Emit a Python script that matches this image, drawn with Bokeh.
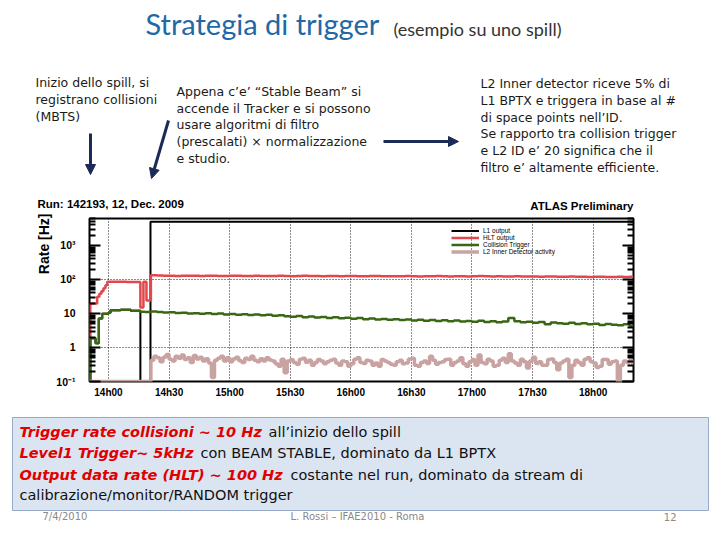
from bokeh.plotting import figure
from bokeh.models import (Range1d, Legend, LegendItem, FixedTicker, LogAxis,
                          CustomJSTickFormatter, Title, Arrow, NormalHead)
from bokeh.layouts import column
from bokeh.embed import file_html
from bokeh.resources import INLINE
from bokeh.core.properties import value

# ---------------- data ----------------
TIME_TICKS = [0, 30, 60, 90, 120, 150, 180, 210, 240]          # minutes after 14h00
TIME_LABELS = ["14h00", "14h30", "15h00", "15h30", "16h00", "16h30", "17h00", "17h30", "18h00"]
SERIES_NAMES = ["L1 output", "HLT output", "Collision Trigger", "L2 Inner Detector activity"]
RUN_START = -9.4
RUN_END = 260

# start of the spill (fine steps)
L1_T = [-9.4, -9.0, -6.4, -4.8, -3.1, 0.0, 1.0, 6.0, 11.0, 15.8, 20.8]
L1_V = [0.1, 1.86, 1.33, 7.1, 9.8, 10.5, 12.4, 12.8, 12.0, 0.1, 5000]

HLT_T = [-9.4, -9.0, -5.6, -4.5, -3.5, -2.5, -1.5, -0.6, 4.0, 9.0, 15.8, 17.3, 18.8]
HLT_V = [0.1, 19.5, 31, 38, 45, 55, 68, 85, 86, 84, 15, 85, 24]

COL_T = [-9.4, -9.0, -6.4, -4.8, -3.1, 0.0, 1.0, 6.0, 11.0, 15.8, 18.0]
COL_V = [0.1, 1.86, 1.33, 7.1, 9.8, 10.5, 12.4, 12.8, 12.0, 11.3, 11.0]

L2_T = [-9.4]
L2_V = [0.1]

# 3-minute bins from 14h21 onwards (HLT, collision trigger)
BIN_T = list(range(21, 259, 3))
# 1.5-minute bins from 14h21 onwards (L2 ID activity)
FINE_BIN_T = [21 + 1.5 * k for k in range(160)]

HLT_LATE = [132, 130, 128, 129, 127, 128, 129, 128, 127, 128,
            128, 127, 126, 128, 129, 127, 126, 128, 127, 126,
            127, 128, 126, 125, 127, 128, 126, 127, 125, 126,
            126, 125, 127, 126, 124, 125, 126, 127, 125, 124,
            125, 124, 126, 125, 123, 124, 125, 126, 124, 123,
            124, 125, 123, 124, 126, 125, 123, 124, 122, 123,
            124, 123, 122, 123, 121, 122, 123, 121, 120, 122,
            121, 120, 119, 121, 120, 118, 119, 120, 118, 121]

COL_LATE = [11.5, 11.0, 10.6, 10.9, 10.3, 10.5, 10.0, 10.2, 9.8, 10.1,
            9.6, 9.9, 9.4, 9.7, 9.2, 9.5, 9.0, 9.3, 8.8, 9.1,
            8.6, 8.9, 8.3, 8.0, 8.4, 7.8, 8.1, 7.6, 7.9, 7.4,
            7.7, 7.2, 7.5, 7.0, 7.3, 6.8, 7.1, 6.6, 6.9, 6.5,
            6.8, 6.4, 6.6, 6.2, 6.5, 6.1, 6.4, 6.0, 6.3, 5.9,
            6.2, 5.8, 6.0, 5.7, 6.1, 5.6, 5.9, 5.5, 5.8, 7.4,
            5.9, 5.5, 5.7, 5.3, 5.6, 4.8, 5.4, 5.2, 5.0, 5.3,
            4.9, 5.2, 4.8, 5.0, 4.6, 4.9, 4.7, 4.5, 4.8, 4.3]

L2_LATE = [0.42, 0.55, 0.50, 0.38, 0.52, 0.62, 0.45, 0.40, 0.55, 0.48,
           0.60, 0.44, 0.50, 0.36, 0.58, 0.46, 0.52, 0.40, 0.47, 0.35,
           0.13, 0.42, 0.48, 0.55, 0.40, 0.50, 0.38, 0.46, 0.52, 0.41,
           0.36, 0.48, 0.44, 0.55, 0.42, 0.38, 0.47, 0.40, 0.50, 0.43,
           0.40, 0.33, 0.28, 0.45, 0.18, 0.40, 0.44, 0.36, 0.32, 0.45,
           0.48, 0.37, 0.42, 0.30, 0.36, 0.44, 0.40, 0.33, 0.38, 0.42,
           0.45, 0.35, 0.30, 0.40, 0.38, 0.28, 0.33, 0.45, 0.50, 0.36,
           0.34, 0.42, 0.40, 0.30, 0.35, 0.28, 0.44, 0.40, 0.36, 0.32,
           0.30, 0.38, 0.42, 0.33, 0.35, 0.46, 0.48, 0.30, 0.28, 0.36,
           0.40, 0.34, 0.55, 0.42, 0.32, 0.36, 0.38, 0.44, 0.45, 0.30,
           0.36, 0.40, 0.50, 0.33, 0.28, 0.38, 0.44, 0.30, 0.60, 0.36,
           0.33, 0.45, 0.40, 0.28, 0.30, 0.42, 0.48, 0.36, 0.65, 0.40,
           0.35, 0.30, 0.45, 0.38, 0.25, 0.40, 0.52, 0.34, 0.38, 0.30,
           0.30, 0.44, 0.46, 0.36, 0.22, 0.35, 0.40, 0.45, 0.13, 0.30,
           0.42, 0.36, 0.30, 0.45, 0.50, 0.38, 0.35, 0.26, 0.28, 0.44,
           0.44, 0.32, 0.38, 0.40, 0.10, 0.30, 0.40, 0.36, 0.42, 0.32]

L1_LATE_LEVEL = 5000

# slide texts
TITLE = "Strategia di trigger"
SUBTITLE = "(esempio su uno spill)"
LEFT_LINES = ["Inizio dello spill, si", "registrano collisioni", "(MBTS)"]
MID_LINES = ["Appena c\u2019e\u2019 \u201cStable Beam\u201d si", "accende il Tracker e si possono",
             "usare algoritmi di filtro", "(prescalati) \u00d7 normalizzazione", "e studio."]
RIGHT_LINES = ["L2 Inner detector riceve 5% di", "L1 BPTX e triggera in base al #",
               "di space points nell\u2019ID.", "Se rapporto tra collision trigger",
               "e L2 ID e\u2019 20 significa che il", "filtro e\u2019 altamente efficiente."]
RED_PARTS = ["Trigger rate collisioni ~ 10 Hz", "Level1 Trigger~ 5kHz", "Output data rate (HLT) ~ 100 Hz"]
BLACK_PARTS = ["all\u2019inizio dello spill", "con BEAM STABLE, dominato da L1 BPTX",
               "costante nel run, dominato da stream di"]
LAST_LINE = "calibrazione/monitor/RANDOM trigger"
FOOTER = ["7/4/2010", "L. Rossi \u2013 IFAE2010 - Roma", "12"]
RUN_TEXT = "Run: 142193, 12, Dec. 2009"
ATLAS_TEXT = "ATLAS Preliminary"
Y_LABEL = "Rate [Hz]"

# ---------------- styles ----------------
RED = "#e2474b"
GREEN = "#3b6614"
PINK = "#c9a2a2"
NAVY = "#1b2a57"
BODY_FONT = "DejaVu Sans"
TITLE_FONT = "Lato"
ROOT_FONT = "Liberation Sans"
W = 720


def steps(t_early, v_early, bins, late):
    return t_early + list(bins) + [RUN_END], v_early + late + [late[-1]]


def canvas(height, y_top, y_bottom):
    f = figure(width=W, height=height, x_range=Range1d(0, W), y_range=Range1d(y_bottom, y_top),
               min_border=0, toolbar_location=None, output_backend="svg",
               x_axis_location=None, y_axis_location=None, title=None, frame_align=False)
    f.grid.visible = False
    f.outline_line_color = None
    return f


def txt(f, x, y, s, size, color="#1a1a1a", font=BODY_FONT, style="normal", align="left",
        baseline="middle"):
    f.text(x=[x], y=[y], text=[s], text_font=value(font), text_font_size=size, text_color=color,
           text_font_style=style, text_align=align, text_baseline=baseline)


# ---------------- top part of the slide ----------------
top = canvas(214, 0, 214)
txt(top, 145, 23, TITLE, "29px", color="#2168a6", font=TITLE_FONT)
txt(top, 393, 28, SUBTITLE, "18px", color="#333333", font=TITLE_FONT)
for i, s in enumerate(LEFT_LINES):
    txt(top, 35, 82 + 17 * i, s, "12.5px")
for i, s in enumerate(MID_LINES):
    txt(top, 176, 91 + 16.7 * i, s, "12.5px")
for i, s in enumerate(RIGHT_LINES):
    txt(top, 480, 83 + 16.8 * i, s, "12.5px")
for xs, ys, xe, ye in [(90, 133, 90, 174), (168, 120, 151, 178), (383, 141, 458, 141)]:
    top.add_layout(Arrow(x_start=xs, y_start=ys, x_end=xe, y_end=ye, line_color=NAVY, line_width=3,
                         end=NormalHead(size=10, fill_color=NAVY, line_color=NAVY)))
txt(top, 37, 203, RUN_TEXT, "11.5px", color="black", font=ROOT_FONT, style="bold")
txt(top, 633, 205, ATLAS_TEXT, "11.5px", color="black", font=ROOT_FONT, style="bold", align="right")

# ---------------- chart ----------------
p = figure(width=W, height=191, y_axis_type="log", x_range=Range1d(RUN_START, RUN_END),
           y_range=Range1d(0.1, 6200), min_border_left=89, min_border_right=87,
           min_border_top=4, min_border_bottom=24, toolbar_location=None,
           output_backend="svg", title=None, frame_align=False)

t, v = L1_T + [RUN_END], L1_V + [L1_LATE_LEVEL]
r_l1 = p.step(t, v, mode="after", line_color="black", line_width=2)
t, v = steps(HLT_T, HLT_V, BIN_T, HLT_LATE)
r_hlt = p.step(t, v, mode="after", line_color=RED, line_width=2.5)
t, v = steps(COL_T, COL_V, BIN_T, COL_LATE)
r_col = p.step(t, v, mode="after", line_color=GREEN, line_width=2.5)
t, v = steps(L2_T, L2_V, FINE_BIN_T, L2_LATE)
r_l2 = p.step(t, v, mode="after", line_color=PINK, line_width=3.5)

p.outline_line_color = "black"
p.outline_line_width = 2
p.outline_line_alpha = 1

majors = [0.1, 1, 10, 100, 1000]
minors = [m * 10 ** e for e in range(-1, 4) for m in range(2, 10)]
log_ticker = FixedTicker(ticks=majors, minor_ticks=minors)

p.xaxis.ticker = FixedTicker(ticks=TIME_TICKS)
p.xaxis.major_label_overrides = dict(zip(TIME_TICKS, TIME_LABELS))
p.xaxis.major_tick_in = 0
p.xaxis.major_tick_out = 0
p.xaxis.minor_tick_out = 0
p.xaxis.axis_line_color = None
p.xaxis.major_label_standoff = 5
p.xaxis.major_label_text_font = ROOT_FONT
p.xaxis.major_label_text_font_style = "bold"
p.xaxis.major_label_text_font_size = "10px"
p.xaxis.major_label_text_color = "black"

sup_code = """
const e = Math.round(Math.log10(tick));
if (e === 0) return "1";
if (e === 1) return "10";
const sup = {"-": "\u207b", "0": "\u2070", "1": "\u00b9", "2": "\u00b2", "3": "\u00b3"};
return "10" + String(e).split("").map(c => sup[c]).join("");
"""
ax = p.yaxis[0]
ax.ticker = log_ticker
ax.formatter = CustomJSTickFormatter(code=sup_code)
ax.major_tick_in = 11
ax.major_tick_out = 0
ax.minor_tick_in = 6
ax.minor_tick_out = 0
ax.major_tick_line_width = 2
ax.minor_tick_line_width = 2
ax.axis_line_color = None
ax.major_label_standoff = 14
ax.major_label_text_font = ROOT_FONT
ax.major_label_text_font_style = "bold"
ax.major_label_text_font_size = "10.5px"
ax.major_label_text_color = "black"

right = LogAxis(ticker=log_ticker, formatter=CustomJSTickFormatter(code="return '';"),
                major_tick_in=11, major_tick_out=0, minor_tick_in=6, minor_tick_out=0,
                major_tick_line_width=2, minor_tick_line_width=2, axis_line_color=None,
                major_label_standoff=0)
p.add_layout(right, "right")

p.add_layout(Title(text=Y_LABEL, align="right", text_font=ROOT_FONT, text_font_size="14px",
                   text_font_style="bold", text_color="black", offset=-5, standoff=4), "left")

p.xgrid[0].ticker = FixedTicker(ticks=TIME_TICKS)
p.ygrid[0].ticker = FixedTicker(ticks=[1, 100])
for g in [p.xgrid[0], p.ygrid[0]]:
    g.grid_line_color = "black"
    g.grid_line_dash = "1 2"
    g.grid_line_width = 1
    g.grid_line_alpha = 0.9

legend = Legend(items=[LegendItem(label=n, renderers=[r]) for n, r in
                       zip(SERIES_NAMES, [r_l1, r_hlt, r_col, r_l2])],
                location=(362, 126), orientation="vertical", glyph_width=28, glyph_height=7,
                label_height=7, label_standoff=4, spacing=0, padding=0, margin=0,
                border_line_color=None, background_fill_alpha=0,
                label_text_font=ROOT_FONT, label_text_font_size="6.5px", label_text_color="black")
p.add_layout(legend)

# ---------------- bottom part ----------------
bot = canvas(135, 405, 540)
bot.quad(left=[12], right=[708], top=[417], bottom=[510], fill_color="#dbe5f1",
         line_color="#97abc9", line_width=1)
for i, (rp, bp, bx) in enumerate(zip(RED_PARTS, BLACK_PARTS, [268, 200, 290])):
    y = 431 + 21.5 * i
    txt(bot, 19, y, rp, "14.5px", color="#e00000", style="bold italic")
    txt(bot, bx, y, bp, "14.5px", color="#111111")
txt(bot, 19, 494, LAST_LINE, "14.5px", color="#111111")
txt(bot, 42, 516, FOOTER[0], "10px", color="#8a8a8a")
txt(bot, 357, 516, FOOTER[1], "10px", color="#8a8a8a", align="center")
txt(bot, 676, 516, FOOTER[2], "10px", color="#8a8a8a", align="right")

layout = column(top, p, bot, spacing=0)
open("out.html", "w").write(file_html(layout, INLINE))
